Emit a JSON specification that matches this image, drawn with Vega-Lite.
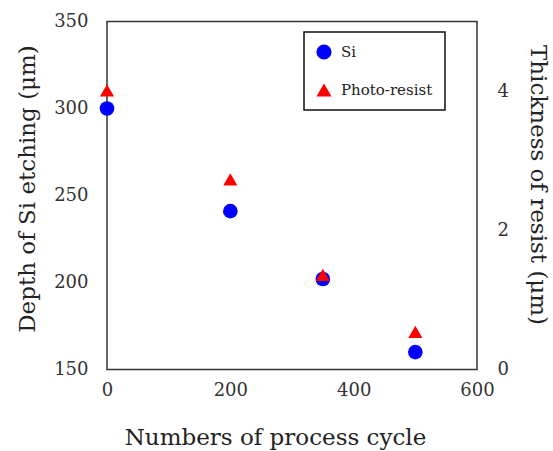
{
  "$schema": "https://vega.github.io/schema/vega-lite/v6.json",
  "width": 370,
  "height": 348,
  "autosize": "none",
  "padding": {"left": 107, "top": 21.5, "right": 76, "bottom": 81.5},
  "config": {
    "view": {"stroke": "#333", "strokeWidth": 1.5},
    "font": "DejaVu Serif",
    "axis": {
      "grid": false,
      "ticks": false,
      "tickSize": 0,
      "domain": false,
      "labelFlush": false,
      "labelFont": "DejaVu Serif",
      "labelFontSize": 18,
      "labelColor": "#333",
      "titleFont": "DejaVu Serif",
      "titleFontSize": 23,
      "titleFontWeight": "normal",
      "titleColor": "#222"
    },
    "legend": {
      "orient": "none",
      "legendX": 197,
      "legendY": 10.5,
      "strokeColor": "#111",
      "strokeWidth": 1.5,
      "padding": 12,
      "rowPadding": 22,
      "labelFont": "DejaVu Serif",
      "labelFontSize": 15,
      "labelColor": "#222",
      "labelOffset": 9,
      "symbolSize": 230,
      "symbolStrokeWidth": 0,
      "symbolOpacity": 1
    }
  },
  "layer": [
    {
      "data": {"values": [
        {"cycle": 0, "value": 300, "series": "Si"},
        {"cycle": 200, "value": 241, "series": "Si"},
        {"cycle": 350, "value": 202, "series": "Si"},
        {"cycle": 500, "value": 160, "series": "Si"}
      ]},
      "mark": {"type": "point", "filled": true, "opacity": 1},
      "encoding": {
        "x": {"field": "cycle", "type": "quantitative", "scale": {"domain": [0, 600], "nice": false},
          "axis": {"values": [0, 200, 400, 600], "title": "Numbers of process cycle", "labelPadding": 12, "titlePadding": 27, "titleX": 168}},
        "y": {"field": "value", "type": "quantitative", "scale": {"domain": [150, 350], "nice": false, "zero": false},
          "axis": {"orient": "left", "values": [150, 200, 250, 300, 350], "title": "Depth of Si etching (μm)", "labelPadding": 19, "titlePadding": 14, "titleY": 167}},
        "color": {"field": "series", "type": "nominal", "scale": {"domain": ["Si", "Photo-resist"], "range": ["#0000ff", "#ff0000"]}, "legend": {"title": null}},
        "shape": {"field": "series", "type": "nominal", "scale": {"domain": ["Si", "Photo-resist"], "range": ["circle", "triangle-up"]}, "legend": {"title": null}},
        "size": {"value": 215}
      }
    },
    {
      "data": {"values": [
        {"cycle": 0, "value": 4.01, "series": "Photo-resist"},
        {"cycle": 200, "value": 2.73, "series": "Photo-resist"},
        {"cycle": 350, "value": 1.36, "series": "Photo-resist"},
        {"cycle": 500, "value": 0.54, "series": "Photo-resist"}
      ]},
      "mark": {"type": "point", "filled": true, "opacity": 1},
      "encoding": {
        "x": {"field": "cycle", "type": "quantitative", "scale": {"domain": [0, 600], "nice": false}},
        "y": {"field": "value", "type": "quantitative", "scale": {"domain": [0, 5], "nice": false},
          "axis": {"orient": "right", "values": [0, 2, 4], "title": "Thickness of resist (μm)", "labelPadding": 20, "titlePadding": 17, "titleY": 163}},
        "color": {"field": "series", "type": "nominal", "scale": {"domain": ["Si", "Photo-resist"], "range": ["#0000ff", "#ff0000"]}, "legend": {"title": null}},
        "shape": {"field": "series", "type": "nominal", "scale": {"domain": ["Si", "Photo-resist"], "range": ["circle", "triangle-up"]}, "legend": {"title": null}},
        "size": {"value": 200}
      }
    }
  ],
  "resolve": {"scale": {"y": "independent"}}
}
